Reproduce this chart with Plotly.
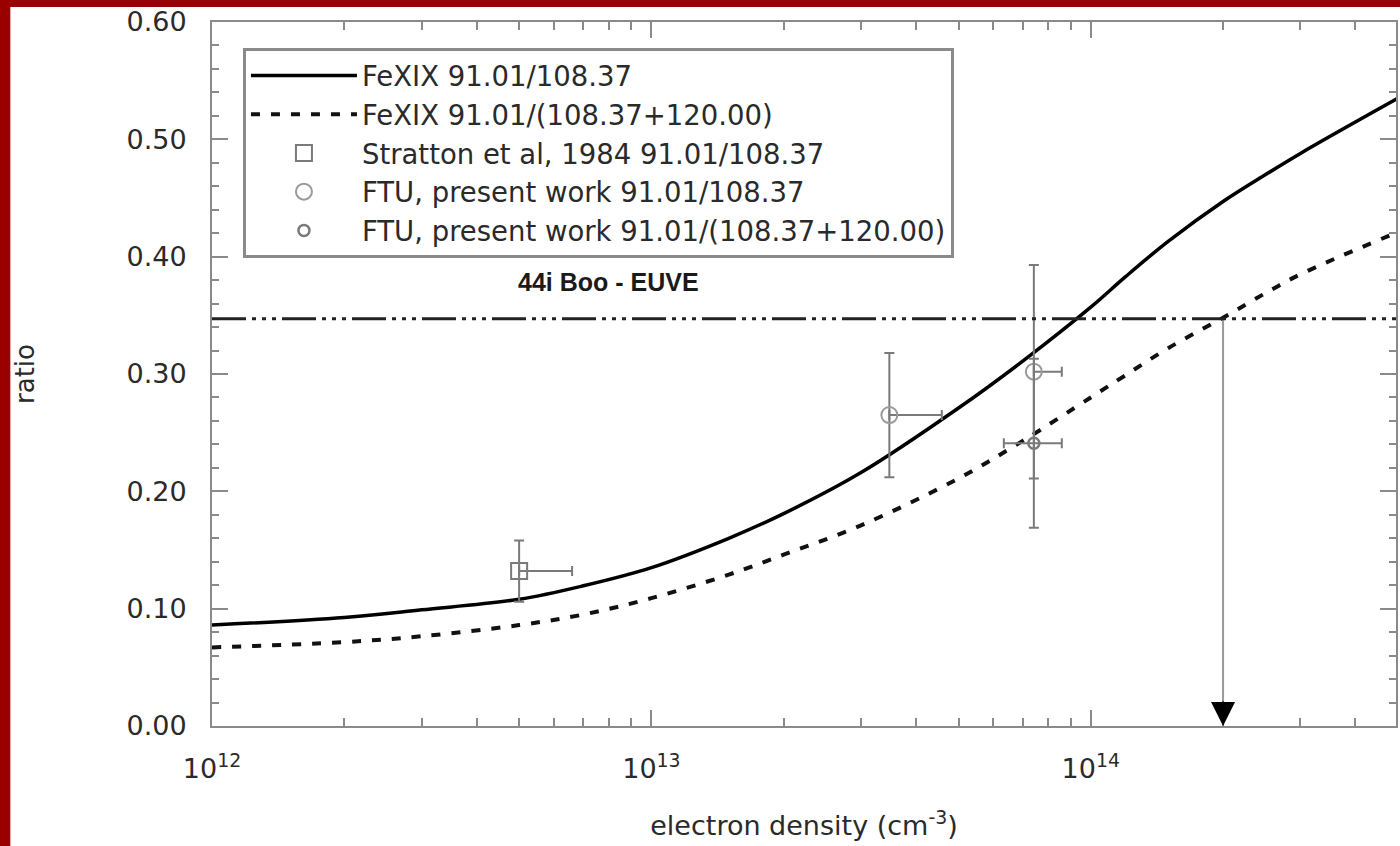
import math
import plotly.graph_objects as go

# ---- data ----
density = [1e12, 2e12, 3e12, 5e12, 7e12, 1e13, 1.5e13, 2e13, 3e13, 5e13, 7e13,
           1e14, 1.2e14, 1.5e14, 2e14, 2.5e14, 3e14, 5e14]
ratio_108 = [0.086, 0.0925, 0.099, 0.108, 0.1195, 0.135, 0.160, 0.181, 0.216, 0.271,
             0.311, 0.357, 0.383, 0.413, 0.447, 0.470, 0.488, 0.535]
ratio_108_120 = [0.067, 0.0715, 0.0765, 0.086, 0.095, 0.109, 0.129, 0.146, 0.171, 0.211,
                 0.243, 0.280, 0.299, 0.322, 0.348, 0.369, 0.385, 0.421]

stratton_x = [5e12]
stratton_y = [0.132]
stratton_yerr = [0.026]
stratton_xerr_plus = [1.6e12]
stratton_xerr_minus = [0.0]

ftu_x = [3.48e13, 7.42e13]
ftu_y = [0.265, 0.302]
ftu_yerr = [0.053, 0.091]
ftu_xerr_plus = [1.1e13, 1.17e13]
ftu_xerr_minus = [0.0, 0.0]

ftu2_x = [7.42e13]
ftu2_y = [0.241]
ftu2_yerr = [0.072]
ftu2_xerr_plus = [1.17e13]
ftu2_xerr_minus = [1.08e13]

euve_ratio = 0.347
euve_density = 2e14
euve_label = "44i Boo - EUVE"
euve_label_x = 8.0e12
euve_label_y = 0.378

x_range = [1e12, 4.95e14]
y_range = [0.0, 0.6]
x_tickvals = [1e12, 1e13, 1e14]
x_ticktext = ["10<sup>12</sup>", "10<sup>13</sup>", "10<sup>14</sup>"]
y_tickvals = [0.0, 0.1, 0.2, 0.3, 0.4, 0.5, 0.6]

# ---- styling ----
FONT = "DejaVu Sans, Verdana, sans-serif"
BOLD_FONT = "Liberation Sans, Arial, Helvetica, sans-serif"
TXT = "#2a2a2a"
FRAME = "#8a8a8a"
MARK = "#7a7a7a"
RED = "#9a0000"

fig = go.Figure()

fig.add_trace(go.Scatter(
    x=density, y=ratio_108, mode="lines", name="FeXIX 91.01/108.37",
    line=dict(color="#000000", width=3.5, shape="spline", smoothing=1.0)))
fig.add_trace(go.Scatter(
    x=density, y=ratio_108_120, mode="lines", name="FeXIX 91.01/(108.37+120.00)",
    line=dict(color="#111111", width=4, dash="9px,11px", shape="spline", smoothing=1.0)))

err_style = dict(color=MARK, thickness=2, width=5)
fig.add_trace(go.Scatter(
    x=stratton_x, y=stratton_y, mode="markers", name="Stratton et al, 1984 91.01/108.37",
    marker=dict(symbol="square-open", size=16, color=MARK, line=dict(width=2, color=MARK)),
    error_y=dict(type="data", array=stratton_yerr, **err_style),
    error_x=dict(type="data", symmetric=False, array=stratton_xerr_plus,
                 arrayminus=stratton_xerr_minus, **err_style)))
fig.add_trace(go.Scatter(
    x=ftu_x, y=ftu_y, mode="markers", name="FTU, present work 91.01/108.37",
    marker=dict(symbol="circle-open", size=16, color="#9a9a9a", line=dict(width=2, color="#9a9a9a")),
    error_y=dict(type="data", array=ftu_yerr, **err_style),
    error_x=dict(type="data", symmetric=False, array=ftu_xerr_plus,
                 arrayminus=ftu_xerr_minus, **err_style)))
fig.add_trace(go.Scatter(
    x=ftu2_x, y=ftu2_y, mode="markers", name="FTU, present work 91.01/(108.37+120.00)",
    marker=dict(symbol="circle-open", size=11, color=MARK, line=dict(width=2.5, color=MARK)),
    error_y=dict(type="data", array=ftu2_yerr, **err_style),
    error_x=dict(type="data", symmetric=False, array=ftu2_xerr_plus,
                 arrayminus=ftu2_xerr_minus, **err_style)))

# vertical drop line from EUVE ratio to the axis
fig.add_trace(go.Scatter(
    x=[euve_density, euve_density], y=[euve_ratio, y_range[0]], mode="lines",
    line=dict(color="#9a9a9a", width=2), showlegend=False, hoverinfo="skip"))

# horizontal EUVE line
fig.add_shape(type="line", xref="paper", yref="y", x0=0, x1=1, y0=euve_ratio, y1=euve_ratio,
              line=dict(color="#222222", width=3, dash="34px,6px,4px,6px,4px,6px,4px,6px"))

# arrowhead at the axis
fig.add_annotation(x=math.log10(euve_density), y=y_range[0], xref="x", yref="y",
                   ax=0, ay=-26, showarrow=True, arrowhead=2, arrowsize=2.4, arrowwidth=2,
                   arrowcolor="#000000", text="", standoff=0)

fig.add_annotation(x=math.log10(euve_label_x), y=euve_label_y, xref="x", yref="y",
                   text="<b>%s</b>" % euve_label, showarrow=False,
                   font=dict(family=BOLD_FONT, size=25, color="#1a1a1a"))

# red frame strips (decoration of the scanned figure)
fig.add_shape(type="rect", xref="paper", yref="paper", x0=-0.2, x1=(10 - 212) / 1186,
              y0=-0.3, y1=1.1, fillcolor=RED, line=dict(width=0), layer="below")
fig.add_shape(type="rect", xref="paper", yref="paper", x0=-0.2, x1=1.1,
              y0=(726 - 7) / 704, y1=1.1, fillcolor=RED, line=dict(width=0), layer="below")

axis_common = dict(showline=True, linecolor=FRAME, linewidth=2, mirror="ticks",
                   ticks="inside", tickcolor=FRAME, tickwidth=2, showgrid=False,
                   zeroline=False, tickfont=dict(family=FONT, size=27, color=TXT))

fig.update_xaxes(type="log", range=[math.log10(x_range[0]), math.log10(x_range[1])],
                 tickvals=x_tickvals, ticktext=x_ticktext, ticklen=16,
                 ticklabelstandoff=18,
                 minor=dict(ticks="inside", ticklen=8, tickcolor=FRAME, tickwidth=2,
                            dtick="D1", showgrid=False),
                 title=dict(text="electron density (cm<sup>-3</sup>)", standoff=33,
                            font=dict(family=FONT, size=27, color=TXT)),
                 **axis_common)
fig.update_yaxes(range=y_range, tickvals=y_tickvals, tickformat=".2f", ticklen=16,
                 ticklabelstandoff=18,
                 minor=dict(ticks="inside", ticklen=7, tickcolor=FRAME, tickwidth=2,
                            dtick=0.02, showgrid=False),
                 title=dict(text="ratio", standoff=84,
                            font=dict(family=FONT, size=26, color=TXT)),
                 **axis_common)

fig.update_layout(
    width=1400, height=846,
    margin=dict(l=212, r=2, t=22, b=120, pad=0),
    paper_bgcolor="#ffffff", plot_bgcolor="#ffffff",
    font=dict(family=FONT, size=27, color=TXT),
    showlegend=True,
    legend=dict(x=(243 - 212) / 1186, y=(726 - 48) / 704, xanchor="left", yanchor="top",
                bgcolor="#ffffff", bordercolor=FRAME, borderwidth=3,
                font=dict(family=FONT, size=27.5, color=TXT),
                itemwidth=106, tracegroupgap=0, itemsizing="trace"),
)

fig.write_html("out.html", config={"displayModeBar": False},
               post_script="document.body.style.margin='0px';document.body.style.overflow='hidden';")
